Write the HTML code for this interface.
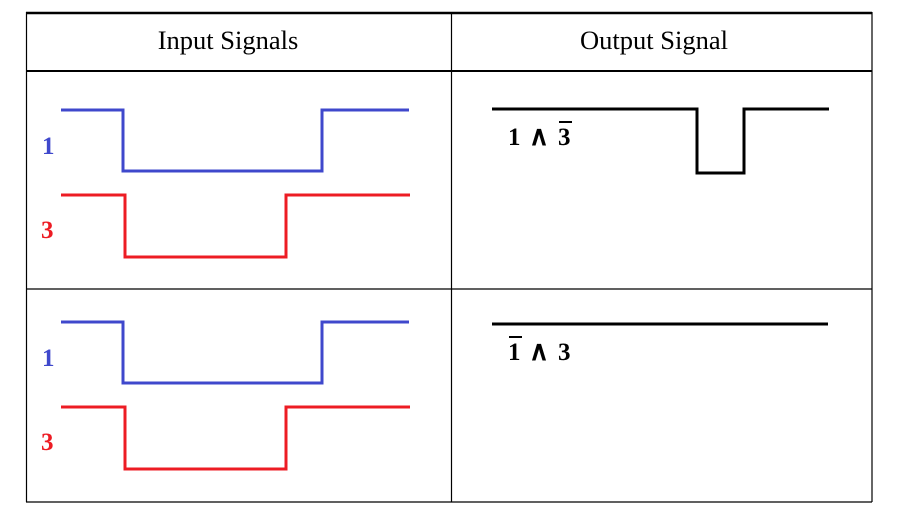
<!DOCTYPE html>
<html><head><meta charset="utf-8"><style>
html,body{margin:0;padding:0;background:#fff;width:914px;height:523px;overflow:hidden}
svg{display:block}
text{font-family:"Liberation Serif",serif}
</style></head><body>
<svg width="914" height="523" viewBox="0 0 914 523">
<g stroke="#000" fill="none">
<line x1="26" y1="13" x2="872" y2="13" stroke-width="2.5"/>
<line x1="26" y1="71" x2="872" y2="71" stroke-width="2"/>
<line x1="26" y1="289" x2="872" y2="289" stroke-width="1.2"/>
<line x1="26" y1="502" x2="872" y2="502" stroke-width="1.2"/>
<line x1="26.5" y1="12" x2="26.5" y2="502" stroke-width="1.2"/>
<line x1="451.5" y1="12" x2="451.5" y2="502" stroke-width="1.2"/>
<line x1="872" y1="12" x2="872" y2="502" stroke-width="1.2"/>
</g>
<text x="228" y="49" font-size="26.5" text-anchor="middle">Input Signals</text>
<text x="654" y="49" font-size="26.5" text-anchor="middle">Output Signal</text>
<g fill="none" stroke-width="3">
<polyline stroke="#3f48cc" points="61,110 123,110 123,171 322,171 322,110 409,110"/>
<polyline stroke="#ed1c24" points="61,195 125,195 125,257 286,257 286,195 410,195"/>
<polyline stroke="#3f48cc" points="61,322 123,322 123,383 322,383 322,322 409,322"/>
<polyline stroke="#ed1c24" points="61,407 125,407 125,469 286,469 286,407 410,407"/>
<polyline stroke="#000" points="492,109 697,109 697,173 744,173 744,109 829,109"/>
<polyline stroke="#000" points="492,324 828,324"/>
</g>
<g font-size="25" font-weight="bold">
<text x="42" y="154" fill="#3f48cc">1</text>
<text x="41" y="238" fill="#ed1c24">3</text>
<text x="42" y="366" fill="#3f48cc">1</text>
<text x="41" y="450" fill="#ed1c24">3</text>
</g>
<g font-size="25" font-weight="bold" fill="#000">
<text x="508" y="145">1</text>
<text x="539" y="145" font-family="DejaVu Sans, sans-serif" font-size="27" text-anchor="middle">∧</text>
<text x="558" y="145">3</text>
<line x1="559" y1="122" x2="572" y2="122" stroke="#000" stroke-width="2"/>
</g>
<g font-size="25" font-weight="bold" fill="#000">
<text x="508" y="360">1</text>
<text x="539" y="360" font-family="DejaVu Sans, sans-serif" font-size="27" text-anchor="middle">∧</text>
<text x="558" y="360">3</text>
<line x1="509" y1="337" x2="522" y2="337" stroke="#000" stroke-width="2"/>
</g>
</svg>
</body></html>
